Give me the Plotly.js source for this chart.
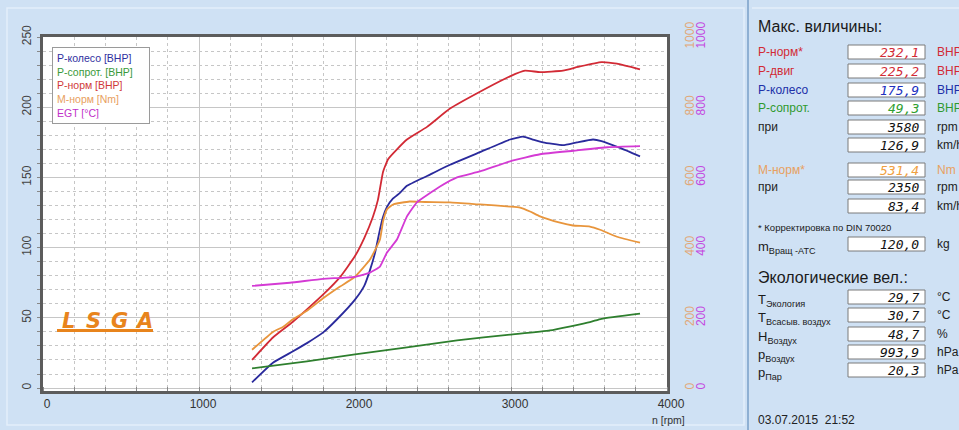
<!DOCTYPE html>
<html><head><meta charset="utf-8">
<script src="https://cdn.plot.ly/plotly-3.0.1.min.js"></script>
<style>html,body{margin:0;padding:0;background:#cfe1f4;}#chart{width:959px;height:430px;}</style>
</head><body><div id="chart"></div>
<script>
// ---- data ----
const rpmPNorm = [1340,1474,1600,1692,1800,1904,2000,2060,2115,2147,2180,2212,2269,2333,2462,2609,2801,2994,3090,3186,3333,3442,3580,3679,3827];
const pNorm    = [20,36,47,56,67,79,94,107,122,134,154,163,170,177,186,199,211,222,226,225,226,229,232.1,231,227];
const rpmPWheel = [1340,1474,1600,1692,1800,1885,2000,2060,2096,2130,2160,2180,2205,2244,2288,2333,2462,2609,2801,2994,3077,3140,3205,3333,3423,3526,3580,3699,3827];
const pWheel    = [4,18,26,32,40,49,63,73,84,97,113,122,129,135,139,144,151,159,168,177,179,177,175,173,175,177,175.9,171,165];
const rpmPLoss = [1340,1692,2000,2333,2654,2994,3250,3506,3580,3827];
const pLoss    = [14,19,24,29,34,38,41,47,49.3,53];
const rpmMNorm = [1340,1474,1538,1600,1692,1800,1904,2000,2096,2160,2180,2205,2244,2350,2450,2609,2801,2994,3058,3122,3186,3314,3397,3506,3571,3679,3827];
const mNorm    = [109,160,174,195,220,257,289,317,366,423,475,509,523,531.4,530,529,523,517,514,503,489,471,463,460,451,431,414];
const rpmEGT = [1340,1583,1795,2000,2096,2160,2205,2269,2333,2397,2545,2654,2801,2994,3186,3400,3620,3827];
const egt    = [291,300,311,317,329,346,386,423,489,529,574,600,617,646,666,676,686,689];

const legendNames = ['P-колесо [BHP]','P-сопрот. [BHP]','P-норм [BHP]','M-норм [Nm]','EGT [°C]'];
const xTicks = [0,1000,2000,3000,4000];
const yTicks = [0,50,100,150,200,250];
const y2Ticks = [0,200,400,600,800,1000];

const panelLabels = ['Р-норм*','Р-двиг','Р-колесо','Р-сопрот.','при','','М-норм*','при',''];
const panelValues = ['232,1','225,2','175,9','49,3','3580','126,9','531,4','2350','83,4'];
const panelUnits  = ['BHP','BHP','BHP','BHP','rpm','km/h','Nm','rpm','km/h'];
const massLabel = 'm<sub>Вращ -АТС</sub>', massValue = '120,0', massUnit = 'kg';
const envLabels = ['T<sub>Экология</sub>','T<sub>Всасыв. воздух</sub>','H<sub>Воздух</sub>','p<sub>Воздух</sub>','p<sub>Пар</sub>'];
const envValues = ['29,7','30,7','48,7','993,9','20,3'];
const envUnits  = ['°C','°C','%','hPa','hPa'];
const dateText = '03.07.2015  21:52';

// ---- styling ----
const RED='#d22a35', BLUE='#2a2a9c', GREEN='#2e7f2e', ORANGE='#e8953c', MAG='#d43ad4';
const panelColors = [RED,RED,'#2030a8','#2f9a2f','#222','#222','#e8a060','#222','#222'];
const valueColors = [RED,RED,'#2030c0','#30a030','#111','#111','#f0a040','#111','#111'];

const L=43, R=667, T=37, B=391;
const X = px => (px-L)/(R-L);
const Y = py => (B-py)/(B-T);

const traces = [
  {x:rpmPWheel, y:pWheel, name:legendNames[0], line:{color:BLUE}},
  {x:rpmPLoss, y:pLoss, name:legendNames[1], line:{color:GREEN}},
  {x:rpmPNorm, y:pNorm, name:legendNames[2], line:{color:RED}},
  {x:rpmMNorm, y:mNorm, name:legendNames[3], yaxis:'y2', line:{color:ORANGE}},
  {x:rpmEGT, y:egt, name:legendNames[4], yaxis:'y3', line:{color:MAG}}
].map(t => Object.assign({type:'scatter', mode:'lines', hoverinfo:'skip'}, t, {line:Object.assign({width:1.8, shape:'spline', smoothing:0.4}, t.line)}));

const annotations = [];
const shapes = [];
function txt(px, py, text, font, xa){
  annotations.push({xref:'paper', yref:'paper', x:X(px), y:Y(py), xanchor:xa||'left', yanchor:'middle', showarrow:false, text, font});
}
// legend box
const legColors = ['#3030a0','#3a9a3a','#d03a3a','#e8a060','#c030c8'];
annotations.push({xref:'paper', yref:'paper', x:X(52), y:Y(47), xanchor:'left', yanchor:'top', align:'left', width:88,
  showarrow:false, bgcolor:'#ffffff', bordercolor:'#9a9a9a', borderwidth:1, borderpad:4,
  font:{family:'Liberation Sans, Arial', size:10.5},
  text: legendNames.map((n,i)=>`<span style="color:${legColors[i]}">${n}</span>`).join('<br>')});
// LSGA logo
const logo = ['L','S','G','A'], logoX=[68,93,119,144];
logo.forEach((c,i)=>txt(logoX[i], 321, `<b><i>${c}</i></b>`, {family:'DejaVu Sans, Arial', size:21, color:'#e8841c'}, 'center'));
shapes.push({type:'rect', xref:'paper', yref:'paper', x0:X(57), x1:X(153), y0:Y(332), y1:Y(329), fillcolor:'#e8841c', line:{width:0}});
// x-axis title
txt(668, 420, 'n [rpm]', {family:'Liberation Sans, Arial', size:10.5, color:'#333'}, 'center');

// frame lines
shapes.push({type:'rect', xref:'paper', yref:'paper', x0:X(7), x1:X(744), y0:Y(8), y1:Y(425), line:{color:'#e4eefa', width:1.5}, layer:'below'});
shapes.push({type:'line', xref:'paper', yref:'paper', x0:X(748), x1:X(748), y0:Y(0), y1:Y(430), line:{color:'#8fb0d3', width:2}});
shapes.push({type:'line', xref:'paper', yref:'paper', x0:X(752), x1:X(959), y0:Y(8), y1:Y(8), line:{color:'#e4eefa', width:1.5}});

// right panel
const F='Liberation Sans, Arial';
txt(756, 27, 'Макс. виличины:', {family:F, size:16, color:'#1a1a1a'});
const rowY = [52,71,90,108,127,145,170,187,206];
function box(py, val, col){
  shapes.push({type:'rect', xref:'paper', yref:'paper', x0:X(848), x1:X(925), y0:Y(py+7), y1:Y(py-7), fillcolor:'#ffffff', line:{color:'#7a7a7a', width:1}});
  txt(921, py, `<i>${val}</i>`, {family:'DejaVu Sans Mono, monospace', size:13, color:col}, 'right');
}
panelLabels.forEach((lab,i)=>{
  if(lab) txt(756, rowY[i], lab, {family:F, size:12, color:panelColors[i]});
  box(rowY[i], panelValues[i], valueColors[i]);
  txt(935, rowY[i], panelUnits[i], {family:F, size:12, color:panelColors[i]});
});
txt(756, 227, '* Корректировка по DIN 70020', {family:F, size:9.5, color:'#1a1a1a'});
txt(756, 247, massLabel, {family:F, size:13, color:'#1a1a1a'});
box(244, massValue, '#111');
txt(935, 244, massUnit, {family:F, size:12, color:'#222'});
txt(756, 277, 'Экологические вел.:', {family:F, size:16, color:'#1a1a1a'});
const envY = [297,315,334,352,370];
envLabels.forEach((lab,i)=>{
  txt(756, envY[i]+3, lab, {family:F, size:13, color:'#1a1a1a'});
  box(envY[i], envValues[i], '#111');
  txt(935, envY[i], envUnits[i], {family:F, size:12, color:'#222'});
});
txt(756, 420, dateText, {family:F, size:12, color:'#222'});

const gridC='#c6c6c6';
const layout = {
  width:959, height:430,
  margin:{l:L, r:959-R, t:T, b:430-B, pad:0},
  paper_bgcolor:'#cfe1f4', plot_bgcolor:'#ffffff',
  showlegend:false,
  font:{family:F},
  xaxis:{range:[0,4000], tickvals:xTicks, ticktext:xTicks.map(String), showgrid:true, gridcolor:gridC, gridwidth:1,
    minor:{dtick:200, tick0:0, showgrid:true, gridcolor:gridC, griddash:'dot', ticks:'inside', ticklen:4, tickcolor:'#888'},
    showline:true, mirror:true, linecolor:'#5c5c5c', linewidth:3, zeroline:false, ticks:'', ticklabelshift:4,
    tickfont:{size:12, color:'#333'}, fixedrange:true},
  yaxis:{range:[-2.1,250], tickvals:yTicks, tickangle:-90, showgrid:true, gridcolor:gridC,
    minor:{dtick:10, tick0:0, showgrid:true, gridcolor:gridC, griddash:'dot', ticks:'outside', ticklen:3, tickcolor:'#888'},
    showline:true, mirror:true, linecolor:'#5c5c5c', linewidth:3, zeroline:false, ticks:'', ticklabelstandoff:4,
    tickfont:{size:12, color:'#444'}, fixedrange:true},
  yaxis2:{overlaying:'y', side:'right', anchor:'x', range:[-8.4,1000], tickvals:y2Ticks, tickangle:-90, showgrid:false, zeroline:false,
    showline:false, ticks:'', ticklabelstandoff:14, tickfont:{size:12, color:'#e2a878'}, fixedrange:true},
  yaxis3:{overlaying:'y', side:'right', anchor:'x', range:[-8.4,1000], tickvals:y2Ticks, tickangle:-90, showgrid:false, zeroline:false,
    showline:false, ticks:'', ticklabelstandoff:25, tickfont:{size:12, color:'#c448e0'}, fixedrange:true},
  annotations, shapes
};
Plotly.newPlot('chart', traces, layout, {displayModeBar:false, staticPlot:true});
</script></body></html>
